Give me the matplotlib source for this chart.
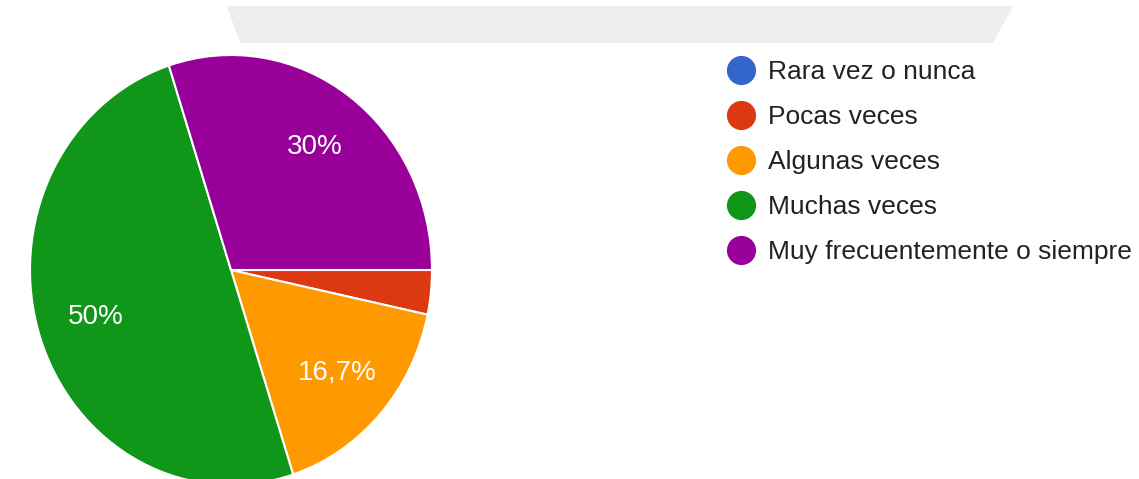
import matplotlib.pyplot as plt
from matplotlib.lines import Line2D
from matplotlib.patches import Polygon

plt.rcParams['font.family'] = ['Liberation Sans', 'DejaVu Sans']

# respuestas de la encuesta (30 personas)
categorias = ["Rara vez o nunca", "Pocas veces", "Algunas veces",
              "Muchas veces", "Muy frecuentemente o siempre"]
respuestas = [0, 1, 5, 15, 9]
colores = ["#3366cc", "#dc3912", "#ff9900", "#109618", "#990099"]


def etiqueta(pct):
    if pct < 5:
        return ""
    txt = "%.1f" % pct
    if txt.endswith(".0"):
        txt = txt[:-2]
    return txt.replace(".", ",") + "%"


fig = plt.figure(figsize=(11.39, 4.79), dpi=100)

# franja gris de la marca de agua arriba
W, H = 1139, 479
banda = Polygon([(227 / W, 1 - 6 / H), (1013 / W, 1 - 6 / H),
                 (993 / W, 1 - 43 / H), (240 / W, 1 - 43 / H)],
                closed=True, transform=fig.transFigure,
                facecolor="#eeeeee", edgecolor="none")
fig.patches.append(banda)

# la torta sale un poco estirada en vertical y cortada abajo
ax = fig.add_axes([30 / W, -6 / H, 402 / W, 430 / H])
wedges, textos, autotextos = ax.pie(
    respuestas, colors=colores, startangle=0, counterclock=False,
    autopct=etiqueta, pctdistance=0.71,
    wedgeprops=dict(edgecolor="white", linewidth=1.5),
    textprops=dict(color="white", fontsize=20))
ax.set_xlim(-1.0, 1.0)
ax.set_ylim(-1.0, 1.0)
ax.set_aspect("auto")
ax.axis("off")

handles = [Line2D([0], [0], marker="o", linestyle="none", markersize=20,
                  markerfacecolor=c, markeredgecolor=c) for c in colores]
leg = fig.legend(handles, categorias, loc="upper left",
                 bbox_to_anchor=(725 / W, 1 - 60 / H), frameon=False,
                 fontsize=19, labelspacing=0.80, handletextpad=0.42,
                 handlelength=1.2, borderpad=0, borderaxespad=0)
for t in leg.get_texts():
    t.set_color("#222222")

fig.savefig("out.png", dpi=100)
